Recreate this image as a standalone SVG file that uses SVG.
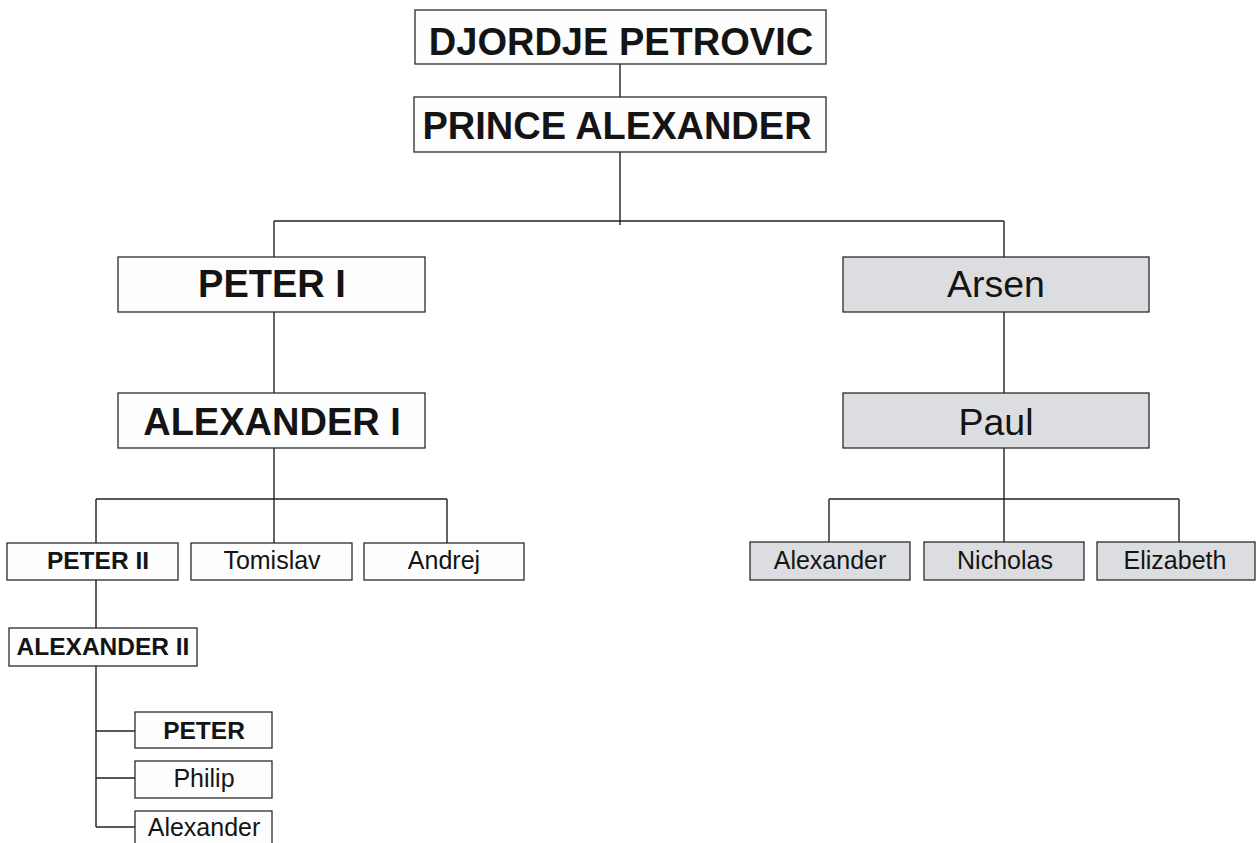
<svg xmlns="http://www.w3.org/2000/svg" width="1256" height="843" viewBox="0 0 1256 843">
<style>
.w{fill:#fdfdfd;stroke:#2b2b2b;stroke-width:1.3}
.g{fill:#dcdde0;stroke:#2b2b2b;stroke-width:1.3}
.c{fill:none;stroke:#222;stroke-width:1.4}
text{font-family:"Liberation Sans",Arial,sans-serif;fill:#141414;text-anchor:middle}
.bl{font-weight:bold;font-size:38px}
.rl{font-size:37.5px}
.bs{font-weight:bold;font-size:24.5px}
.rs{font-size:25px}
</style>
<rect width="1256" height="843" fill="#ffffff"/>
<g id="connectors">
<path class="c" d="M620 64V97M620 152V225M274 221H1004M274 221V257M1004 221V257M274 312V393M1004 312V393M274 448V543M96 499H447M96 499V543M447 499V543M1004 448V542M829 499H1179M829 499V542M1179 499V542M96 580V628M96 666V827M96 731H135M96 778H135M96 827H135"/>
</g>
<g id="djordje"><rect class="w" x="415" y="10" width="411" height="54"/><text class="bl" x="621" y="55">DJORDJE PETROVIC</text></g>
<g id="prince-alexander"><rect class="w" x="414" y="97" width="412" height="55"/><text class="bl" x="617" y="139">PRINCE ALEXANDER</text></g>
<g id="peter-i"><rect class="w" x="118" y="257" width="307" height="55"/><text class="bl" x="272" y="297">PETER I</text></g>
<g id="alexander-i"><rect class="w" x="118" y="393" width="307" height="55"/><text class="bl" x="272" y="435">ALEXANDER I</text></g>
<g id="arsen"><rect class="g" x="843" y="257" width="306" height="55"/><text class="rl" x="996" y="297">Arsen</text></g>
<g id="paul"><rect class="g" x="843" y="393" width="306" height="55"/><text class="rl" x="996" y="435">Paul</text></g>
<g id="peter-ii"><rect class="w" x="7" y="543" width="171" height="37"/><text class="bs" x="98" y="569">PETER II</text></g>
<g id="tomislav"><rect class="w" x="191" y="543" width="161" height="37"/><text class="rs" x="272" y="569">Tomislav</text></g>
<g id="andrej"><rect class="w" x="364" y="543" width="160" height="37"/><text class="rs" x="444" y="569">Andrej</text></g>
<g id="alexander-ii"><rect class="w" x="9" y="628" width="188" height="38"/><text class="bs" x="103" y="655">ALEXANDER II</text></g>
<g id="peter"><rect class="w" x="135" y="712" width="137" height="36"/><text class="bs" x="204" y="739">PETER</text></g>
<g id="philip"><rect class="w" x="135" y="761" width="137" height="37"/><text class="rs" x="204" y="787">Philip</text></g>
<g id="alexander-son"><rect class="w" x="135" y="811" width="137" height="45"/><text class="rs" x="204" y="836">Alexander</text></g>
<g id="alexander-r"><rect class="g" x="750" y="542" width="160" height="38"/><text class="rs" x="830" y="569">Alexander</text></g>
<g id="nicholas"><rect class="g" x="924" y="542" width="160" height="38"/><text class="rs" x="1005" y="569">Nicholas</text></g>
<g id="elizabeth"><rect class="g" x="1097" y="542" width="158" height="38"/><text class="rs" x="1175" y="569">Elizabeth</text></g>
</svg>
